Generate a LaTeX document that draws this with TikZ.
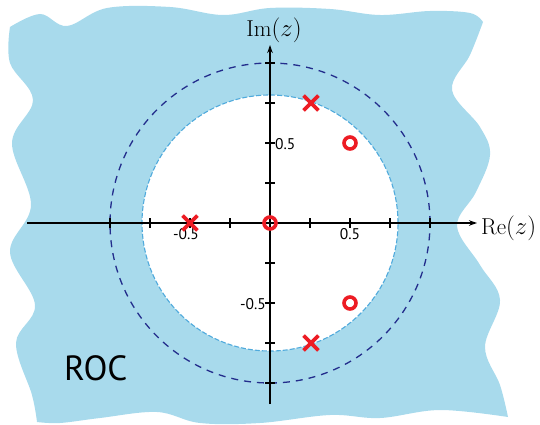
\documentclass[tikz,border=0pt]{standalone}
\usepackage{fontspec}
\newfontfamily\lblfont{PT Sans}
\usetikzlibrary{arrows.meta,shapes.misc}
\definecolor{rocblue}{RGB}{168,218,236}
\definecolor{ucblue}{RGB}{35,45,140}
\definecolor{ringblue}{RGB}{80,170,220}
\definecolor{pzred}{RGB}{237,28,36}
\tikzset{
 axisline/.style={line width=1.2pt, -{Stealth[length=8pt,width=5.5pt]}},
 tickmark/.style={line width=2.4pt},
 polemark/.style={cross out, draw=pzred, line width=3.8pt, minimum size=11pt, inner sep=0pt},
 zeromark/.style={circle, draw=pzred, line width=3.6pt, minimum size=12pt, inner sep=0pt},
 ticklabel/.style={font=\lblfont\fontsize{15.5}{18}\selectfont, inner sep=0pt},
 axislabel/.style={font=\fontsize{23}{28}\selectfont, inner sep=0pt},
 roclabel/.style={font=\lblfont\fontsize{35}{40}\selectfont, inner sep=0pt},
 blobside/.style={smooth, tension=0.6},
}
\begin{document}
\begin{tikzpicture}[x=1pt,y=-1pt]
\useasboundingbox (0,0) rectangle (540,425);
\fill[rocblue] (10,27)
 -- plot[blobside] coordinates {(10,27) (40,14) (67,26) (107,8) (170,7) (223,15) (270,8) (330,9) (380,15) (430,11) (470,13) (483,22)}
 -- plot[blobside] coordinates {(483,22) (470,55) (452,90) (480,127) (490,155) (476,192) (457,226) (480,265) (500,300) (485,347) (500,385) (508,417)}
 -- plot[blobside] coordinates {(508,417) (440,410) (380,418) (330,415) (260,423) (200,423) (157,412) (100,418) (60,423) (37,422)}
 -- plot[blobside] coordinates {(37,422) (32,395) (16,343) (35,305) (10,252) (31,205) (12,143) (33,100) (10,63) (10,27)}
 -- cycle;
\coordinate (O) at (270,223);
\fill[white] (O) circle[radius=128pt];
\draw[ringblue, line width=1.1pt, dash pattern=on 5pt off 2pt] (O) circle[radius=128pt];
\draw[ucblue, line width=1.3pt, dash pattern=on 7pt off 6pt] (O) circle[radius=160pt];
\coordinate (xl) at (27,223);
\coordinate (xr) at (477,223);
\coordinate (yb) at (270,404);
\coordinate (yt) at (270,45);
\draw[axisline] (xl) -- (xr);
\draw[axisline] (yb) -- (yt);
\foreach \k in {-4,-3,-2,-1,1,2,3,4} {
  \draw[tickmark] ({270+40*\k},218) -- ({270+40*\k},228);
  \draw[tickmark] (265,{223+40*\k}) -- (275,{223+40*\k});
}
\node[axislabel, anchor=base] (imlab) at (274,37) {$\mathrm{Im}(z)$};
\node[axislabel, anchor=base west] (relab) at (481,234) {$\mathrm{Re}(z)$};
\node[ticklabel, anchor=base] (xp) at (350,239) {0.5};
\node[ticklabel, anchor=base] (xm) at (186,239) {-0.5};
\node[ticklabel, anchor=base west] (yp) at (275,149) {0.5};
\node[ticklabel, anchor=base east] (ym) at (266,309) {-0.5};
\node[roclabel, anchor=base west] (roc) at (64,380) {ROC};
\node[polemark] (p1) at (190,223) {};
\node[polemark] (p2) at (311,103) {};
\node[polemark] (p3) at (311,343) {};
\node[zeromark] (z1) at (270,223) {};
\node[zeromark] (z2) at (350,143) {};
\node[zeromark] (z3) at (350,303) {};
\end{tikzpicture}
\end{document}
